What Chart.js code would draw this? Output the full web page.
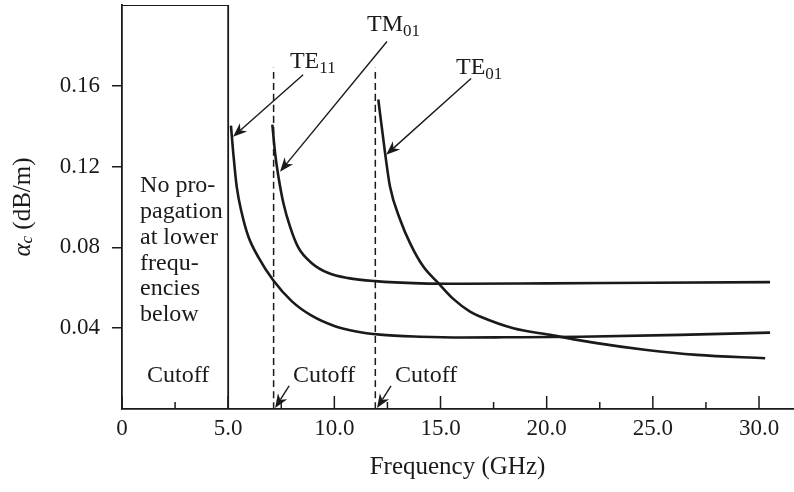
<!DOCTYPE html>
<html>
<head>
<meta charset="utf-8">
<script src="https://cdn.jsdelivr.net/npm/chart.js@4.4.1/dist/chart.umd.min.js"></script>
<style>
  html, body { margin: 0; padding: 0; background: #fff; }
  #wrap { width: 794px; height: 492px; }
</style>
</head>
<body>
<div id="wrap"><canvas id="lossChart"></canvas></div>
<script>
// conductor attenuation of circular waveguide modes
var te11X = [5.13, 5.24, 5.40, 5.64, 5.95, 6.42, 7.13, 7.99, 8.93, 10.03, 10.97, 12.15, 14.04, 16.06, 18.0, 21.57, 26.28, 30.52];
var te11Y = [0.1403, 0.1267, 0.1102, 0.0970, 0.0854, 0.0752, 0.0636, 0.0534, 0.0462, 0.0410, 0.0385, 0.0368, 0.0358, 0.0354, 0.0355, 0.0358, 0.0367, 0.0378];

var tm01X = [7.08, 7.21, 7.36, 7.60, 7.91, 8.30, 8.94, 9.72, 10.66, 11.92, 14.04, 16.0, 20.0, 25.0, 30.52];
var tm01Y = [0.1408, 0.1267, 0.1155, 0.1020, 0.0904, 0.0800, 0.0722, 0.0673, 0.0648, 0.0633, 0.0622, 0.0620, 0.0622, 0.0625, 0.0628];

var te01X = [12.07, 12.39, 12.62, 13.10, 13.57, 14.19, 14.90, 15.60, 16.39, 16.86, 18.43, 20.16, 22.36, 24.71, 27.07, 30.29];
var te01Y = [0.1532, 0.1267, 0.1102, 0.0937, 0.0820, 0.0705, 0.0623, 0.0545, 0.0482, 0.0458, 0.0400, 0.0367, 0.0326, 0.0292, 0.0268, 0.0251];

// cutoff frequencies (GHz) and the no-propagation box
var cutoffX = [7.14, 11.93];
var cutoffTop = 0.169;
var boxX = [0, 5, 5];
var boxY = [0.2, 0.2, 0];

var xMajorTicks = [0, 5, 10, 15, 20, 25, 30];
var xTickLabels = ['0', '5.0', '10.0', '15.0', '20.0', '25.0', '30.0'];
var xMinorTicks = [2.5, 7.5, 12.5, 17.5, 22.5, 27.5];
var yTicks = [0.04, 0.08, 0.12, 0.16];
var yTickLabels = ['0.04', '0.08', '0.12', '0.16'];

var FONT = "'Liberation Serif', 'Times New Roman', serif";
var INK = '#1a1a1a';

function pts(xs, ys) {
    return xs.map(function (x, i) { return { x: x, y: ys[i] }; });
}

var datasets = [
    { label: 'TE11', data: pts(te11X, te11Y), borderWidth: 2.6 },
    { label: 'TM01', data: pts(tm01X, tm01Y), borderWidth: 2.6 },
    { label: 'TE01', data: pts(te01X, te01Y), borderWidth: 2.6 },
    { label: 'box', data: pts(boxX, boxY), borderWidth: 1.8, cubicInterpolationMode: 'default', tension: 0 }
];
cutoffX.forEach(function (c) {
    datasets.push({ label: 'cutoff', data: [{ x: c, y: 0 }, { x: c, y: cutoffTop }], borderWidth: 1.5, borderDash: [7, 4], tension: 0 });
});
datasets.forEach(function (d) {
    d.showLine = true;
    d.pointRadius = 0;
    d.borderColor = INK;
    d.fill = false;
    if (!d.cubicInterpolationMode) d.cubicInterpolationMode = 'monotone';
});

// text and arrows, positions in data units
var labels = [
    { main: 'TE', sub: '11', x: 7.91, y: 0.169 },
    { main: 'TM', sub: '01', x: 11.54, y: 0.1869 },
    { main: 'TE', sub: '01', x: 15.73, y: 0.166 },
    { main: 'Cutoff', x: 1.18, y: 0.0134 },
    { main: 'Cutoff', x: 8.05, y: 0.0134 },
    { main: 'Cutoff', x: 12.86, y: 0.0134 }
];
var boxText = ['No pro-', 'pagation', 'at lower', 'frequ-', 'encies', 'below'];
var boxTextX = 0.85, boxTextY = 0.1076, boxTextStep = 0.01285;
var arrows = [
    { from: [8.53, 0.1655], to: [5.23, 0.1348] },
    { from: [12.48, 0.1819], to: [7.44, 0.1175] },
    { from: [16.44, 0.1636], to: [12.44, 0.1259] },
    { from: [7.87, 0.0114], to: [7.21, 0.0005] },
    { from: [12.67, 0.0114], to: [12.01, 0.0005] }
];

function drawArrow(ctx, x1, y1, x2, y2) {
    var a = Math.atan2(y2 - y1, x2 - x1);
    var len = 14, half = 5.5;
    ctx.beginPath();
    ctx.moveTo(x1, y1);
    ctx.lineTo(x2 - Math.cos(a) * len * 0.7, y2 - Math.sin(a) * len * 0.7);
    ctx.stroke();
    var bx = x2 - Math.cos(a) * len, by = y2 - Math.sin(a) * len;
    var nx = x2 - Math.cos(a) * len * 0.7, ny = y2 - Math.sin(a) * len * 0.7;
    ctx.beginPath();
    ctx.moveTo(x2, y2);
    ctx.lineTo(bx - Math.sin(a) * half, by + Math.cos(a) * half);
    ctx.lineTo(nx, ny);
    ctx.lineTo(bx + Math.sin(a) * half, by - Math.cos(a) * half);
    ctx.closePath();
    ctx.fill();
}

var notes = {
    id: 'notes',
    afterDatasetsDraw: function (chart) {
        var ctx = chart.ctx, xs = chart.scales.x, ys = chart.scales.y;
        var base = ys.getPixelForValue(0);
        ctx.save();
        ctx.strokeStyle = INK;
        ctx.fillStyle = INK;
        // inward ticks on the frequency axis
        ctx.lineWidth = 1.5;
        xMajorTicks.concat(xMinorTicks).forEach(function (v) {
            var px = xs.getPixelForValue(v);
            var h = (v % 5 === 0) ? 13 : 7;
            ctx.beginPath();
            ctx.moveTo(px, base);
            ctx.lineTo(px, base - h);
            ctx.stroke();
        });
        // arrows
        ctx.lineWidth = 1.4;
        arrows.forEach(function (a) {
            drawArrow(ctx, xs.getPixelForValue(a.from[0]), ys.getPixelForValue(a.from[1]),
                xs.getPixelForValue(a.to[0]), ys.getPixelForValue(a.to[1]));
        });
        // labels
        ctx.textBaseline = 'alphabetic';
        ctx.textAlign = 'left';
        labels.forEach(function (l) {
            var px = xs.getPixelForValue(l.x), py = ys.getPixelForValue(l.y);
            ctx.font = '24px ' + FONT;
            ctx.fillText(l.main, px, py);
            if (l.sub) {
                var w = ctx.measureText(l.main).width;
                ctx.font = '17px ' + FONT;
                ctx.fillText(l.sub, px + w, py + 5);
            }
        });
        ctx.font = '24px ' + FONT;
        boxText.forEach(function (t, i) {
            ctx.fillText(t, xs.getPixelForValue(boxTextX), ys.getPixelForValue(boxTextY - i * boxTextStep));
        });
        // y axis title: alpha_c (dB/m)
        var cx = 23, cy = (ys.top + ys.bottom) / 2;
        ctx.translate(cx, cy);
        ctx.rotate(-Math.PI / 2);
        ctx.font = 'italic 25px ' + FONT;
        var wA = ctx.measureText('\u03b1').width;
        ctx.font = 'italic 17px ' + FONT;
        var wC = ctx.measureText('c').width;
        ctx.font = '25px ' + FONT;
        var wR = ctx.measureText(' (dB/m)').width;
        var sx = -(wA + wC + wR) / 2;
        ctx.textBaseline = 'middle';
        ctx.font = 'italic 25px ' + FONT;
        ctx.fillText('\u03b1', sx, 0);
        ctx.font = 'italic 17px ' + FONT;
        ctx.fillText('c', sx + wA, 5);
        ctx.font = '25px ' + FONT;
        ctx.fillText(' (dB/m)', sx + wA + wC, 0);
        ctx.restore();
    }
};

var lossChart = new Chart(document.getElementById('lossChart').getContext('2d'), {
    type: 'scatter',
    data: { datasets: datasets },
    plugins: [notes],
    options: {
        responsive: true,
        maintainAspectRatio: false,
        animation: false,
        layout: { padding: { left: 0, right: 1, top: 5, bottom: 0 } },
        plugins: { legend: { display: false }, tooltip: { enabled: false } },
        scales: {
            x: {
                type: 'linear',
                min: 0,
                max: 31.6,
                afterBuildTicks: function (s) { s.ticks = xMajorTicks.map(function (v) { return { value: v }; }); },
                afterFit: function (s) { s.height = 83; s.paddingLeft = 0; s.paddingRight = 0; },
                ticks: {
                    autoSkip: false,
                    maxRotation: 0,
                    padding: 6,
                    color: INK,
                    font: { family: FONT, size: 23 },
                    callback: function (v) { return xTickLabels[xMajorTicks.indexOf(v)]; }
                },
                grid: { drawOnChartArea: false, drawTicks: false, color: 'rgba(0,0,0,0)' },
                border: { color: INK, width: 1.8 },
                title: {
                    display: true,
                    text: 'Frequency (GHz)',
                    color: INK,
                    font: { family: FONT, size: 25 },
                    padding: { top: 0, bottom: 10 }
                }
            },
            y: {
                type: 'linear',
                min: 0,
                max: 0.2,
                afterBuildTicks: function (s) { s.ticks = yTicks.map(function (v) { return { value: v }; }); },
                afterFit: function (s) { s.width = 122; s.paddingTop = 0; s.paddingBottom = 0; },
                ticks: {
                    padding: 12,
                    color: INK,
                    font: { family: FONT, size: 23 },
                    callback: function (v) { return yTickLabels[yTicks.indexOf(v)]; }
                },
                grid: { drawOnChartArea: false, drawTicks: true, tickLength: 10, color: INK, lineWidth: 1.5 },
                border: { color: INK, width: 1.8 }
            }
        }
    }
});
</script>
</body>
</html>
